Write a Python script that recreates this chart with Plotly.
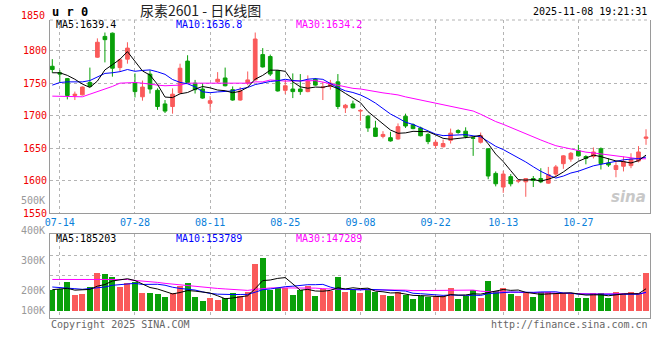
import plotly.graph_objects as go
import pandas as pd

# ---------------- data ----------------
dates = [
    "2025-07-11", "2025-07-14", "2025-07-15", "2025-07-16", "2025-07-17", "2025-07-18",
    "2025-07-21", "2025-07-22", "2025-07-23", "2025-07-24", "2025-07-25",
    "2025-07-28", "2025-07-29", "2025-07-30", "2025-07-31", "2025-08-01",
    "2025-08-04", "2025-08-05", "2025-08-06", "2025-08-07", "2025-08-08",
    "2025-08-11", "2025-08-12", "2025-08-13", "2025-08-14", "2025-08-15",
    "2025-08-18", "2025-08-19", "2025-08-20", "2025-08-21", "2025-08-22",
    "2025-08-25", "2025-08-26", "2025-08-27", "2025-08-28", "2025-08-29",
    "2025-09-01", "2025-09-02", "2025-09-03", "2025-09-04", "2025-09-05",
    "2025-09-08", "2025-09-09", "2025-09-10", "2025-09-11", "2025-09-12",
    "2025-09-15", "2025-09-16", "2025-09-17", "2025-09-18", "2025-09-19",
    "2025-09-22", "2025-09-23", "2025-09-24", "2025-09-25", "2025-09-26",
    "2025-09-29", "2025-09-30", "2025-10-09", "2025-10-10",
    "2025-10-13", "2025-10-14", "2025-10-15", "2025-10-16", "2025-10-17",
    "2025-10-20", "2025-10-21", "2025-10-22", "2025-10-23", "2025-10-24",
    "2025-10-27", "2025-10-28", "2025-10-29", "2025-10-30", "2025-10-31",
    "2025-11-03", "2025-11-04", "2025-11-05", "2025-11-06", "2025-11-07",
]

opens = [1776, 1766, 1757, 1731, 1732, 1751, 1790, 1822, 1827, 1774,
         1787, 1751, 1729, 1764, 1739, 1718, 1714, 1735, 1784, 1750,
         1741, 1719, 1752, 1758, 1740, 1724, 1750, 1755, 1794, 1791,
         1769, 1739, 1741, 1741, 1737, 1756, 1743, 1745, 1752, 1712,
         1718, 1707, 1699, 1681, 1668, 1666, 1664, 1699, 1686, 1681,
         1671, 1654, 1652, 1662, 1677, 1676, 1666, 1659, 1649, 1611,
         1590, 1606, 1599, 1598, 1603, 1603, 1596, 1610, 1626, 1633,
         1646, 1637, 1637, 1649, 1627, 1617, 1622, 1623, 1630, 1665]

highs = [1787, 1770, 1758, 1737, 1745, 1774, 1819, 1828, 1828, 1788,
         1813, 1765, 1754, 1770, 1742, 1724, 1742, 1780, 1793, 1755,
         1750, 1730, 1767, 1774, 1745, 1744, 1768, 1828, 1804, 1794,
         1770, 1755, 1765, 1764, 1762, 1758, 1752, 1755, 1764, 1718,
         1723, 1710, 1701, 1692, 1676, 1675, 1688, 1703, 1688, 1683,
         1673, 1663, 1663, 1680, 1679, 1682, 1668, 1674, 1649, 1614,
         1615, 1610, 1602, 1603, 1607, 1619, 1621, 1624, 1639, 1644,
         1655, 1639, 1651, 1651, 1634, 1629, 1637, 1642, 1653, 1679]

lows = [1766, 1752, 1725, 1724, 1731, 1744, 1789, 1782, 1760, 1768,
        1780, 1728, 1723, 1734, 1709, 1704, 1703, 1734, 1750, 1734,
        1726, 1708, 1750, 1745, 1723, 1723, 1747, 1754, 1774, 1761,
        1737, 1733, 1727, 1732, 1736, 1746, 1724, 1740, 1710, 1704,
        1711, 1692, 1675, 1667, 1665, 1660, 1663, 1681, 1679, 1668,
        1656, 1650, 1651, 1657, 1672, 1665, 1638, 1657, 1602, 1591,
        1581, 1591, 1596, 1575, 1590, 1596, 1595, 1606, 1618, 1629,
        1637, 1625, 1634, 1617, 1621, 1605, 1614, 1619, 1628, 1655]

closes = [1771, 1764, 1731, 1733, 1744, 1745, 1813, 1817, 1773, 1786,
          1804, 1737, 1744, 1741, 1714, 1707, 1733, 1773, 1751, 1740,
          1727, 1723, 1756, 1746, 1724, 1738, 1755, 1818, 1775, 1764,
          1738, 1746, 1737, 1737, 1753, 1747, 1744, 1750, 1714, 1716,
          1712, 1708, 1681, 1668, 1671, 1661, 1683, 1684, 1680, 1669,
          1660, 1659, 1657, 1673, 1674, 1668, 1665, 1669, 1607, 1595,
          1610, 1595, 1600, 1603, 1600, 1598, 1609, 1621, 1638, 1642,
          1638, 1634, 1644, 1626, 1624, 1623, 1629, 1633, 1644, 1667]

volumes = [173000, 179000, 239000, 134000, 140000, 198000, 314000, 305000, 281000, 200000,
           231000, 239000, 149000, 149000, 140000, 118000, 149000, 206000, 231000, 116000,
           83000, 107000, 91000, 107000, 149000, 124000, 157000, 388000, 437000, 173000,
           190000, 190000, 132000, 173000, 206000, 124000, 182000, 165000, 281000, 157000,
           173000, 149000, 182000, 157000, 132000, 124000, 157000, 132000, 99000, 124000,
           116000, 124000, 124000, 190000, 99000, 124000, 173000, 110000, 248000, 165000,
           190000, 138000, 124000, 151000, 116000, 157000, 157000, 138000, 149000, 149000,
           110000, 110000, 149000, 149000, 110000, 157000, 140000, 157000, 149000, 314000]

# moving-average values at the left edge (they depend on days before the window)
ma5_head = [1766, 1766, 1762, 1756]
ma10_head = [1747, 1751, 1752, 1752, 1752, 1754, 1760, 1765, 1766]
ma30_head = [1730, 1730, 1730, 1729, 1729, 1733, 1737, 1740, 1745, 1750,
             1751, 1751, 1750, 1748, 1747, 1746, 1746, 1747, 1750, 1750,
             1750, 1751, 1751, 1750, 1750, 1750, 1750, 1752, 1752]
vma5_head = [176000, 179000, 187000, 172000]
vma10_head = [198000, 195000, 190000, 184000, 179000, 184000, 193000, 198000, 212000]
vma30_head = [260000, 260000, 260000, 260000, 260000, 260000, 260000, 260000, 260000, 260000,
              260000, 252000, 248000, 244000, 236000, 228000, 222000, 212000, 205000, 198000,
              193000, 190000, 186000, 182000, 178000, 174000, 170000, 178000, 186000]

date_ticks = ["2025-07-14", "2025-07-28", "2025-08-11", "2025-08-25",
              "2025-09-08", "2025-09-22", "2025-10-13", "2025-10-27"]
date_ticklabels = ["07-14", "07-28", "08-11", "08-25", "09-08", "09-22", "10-13", "10-27"]
price_ticks = [1550, 1600, 1650, 1700, 1750, 1800]
price_top_label = "1850"
vol_labels = ["500K", "400K", "300K", "200K", "100K"]

title_code = "u r 0"
title_text = "尿素2601 - 日K线图"
timestamp = "2025-11-08 19:21:31"
price_ma_text = ["MA5:1639.4", "MA10:1636.8", "MA30:1634.2"]
vol_ma_text = ["MA5:185203", "MA10:153789", "MA30:147289"]
copyright_text = "Copyright 2025 SINA.COM"
url_text = "http://finance.sina.com.cn"


def moving_average(values, n, head):
    rolled = pd.Series(values, dtype=float).rolling(n).mean().tolist()
    return list(head) + rolled[len(head):]


ma5 = moving_average(closes, 5, ma5_head)
ma10 = moving_average(closes, 10, ma10_head)
ma30 = moving_average(closes, 30, ma30_head)
vma5 = moving_average(volumes, 5, vma5_head)
vma10 = moving_average(volumes, 10, vma10_head)
vma30 = moving_average(volumes, 30, vma30_head)

# ---------------- styling ----------------
W, H = 660, 360
RED = "#FA5A5A"
GREEN = "#09A009"
GRID = "#B4B4B4"
AXIS = "#9A9A9A"
MONO = "DejaVu Sans Mono"
L_PX, R_PX = 50, 650
P_TOP, P_BOT = 20, 213
V_TOP, V_BOT = 234, 318


def px(x):
    return x / W


def py(y):
    return 1 - y / H


bar_colors = [RED if c >= o else GREEN for o, c in zip(opens, closes)]

fig = go.Figure()
fig.add_trace(go.Candlestick(
    x=dates, open=opens, high=highs, low=lows, close=closes,
    increasing=dict(line=dict(color=RED, width=1), fillcolor=RED),
    decreasing=dict(line=dict(color=GREEN, width=1), fillcolor=GREEN),
    whiskerwidth=0, xaxis="x", yaxis="y", showlegend=False, hoverinfo="skip"))
for vals, col in [(ma30, "#FF00FF"), (ma10, "#0000FF"), (ma5, "#000000")]:
    fig.add_trace(go.Scatter(x=dates, y=vals, mode="lines",
                             line=dict(color=col, width=1),
                             xaxis="x", yaxis="y", showlegend=False, hoverinfo="skip"))

fig.add_trace(go.Bar(x=dates, y=volumes, marker=dict(color=bar_colors, line=dict(width=0)),
                     width=0.8, xaxis="x2", yaxis="y2", showlegend=False, hoverinfo="skip"))
for vals, col in [(vma30, "#FF00FF"), (vma10, "#0000FF"), (vma5, "#000000")]:
    fig.add_trace(go.Scatter(x=dates, y=vals, mode="lines",
                             line=dict(color=col, width=1),
                             xaxis="x2", yaxis="y2", showlegend=False, hoverinfo="skip"))

xr = [-0.306, 79.53]
p_scale = (P_BOT - 50.7) / 250.0  # px per price unit
p_range = [1550, 1550 + (P_BOT - P_TOP) / p_scale]
v_scale = 8250.0  # volume units per px
v_zero = 311
v_range = [-(V_BOT - v_zero) * v_scale, (v_zero - V_TOP) * v_scale]

common_x = dict(type="category", range=xr, domain=[px(L_PX), px(R_PX)],
                tickvals=date_ticks, showgrid=True, gridcolor=GRID, griddash="dot",
                gridwidth=1, zeroline=False, showline=True, linecolor=AXIS, linewidth=1,
                ticks="", fixedrange=True, automargin=False)

fig.update_layout(
    template="none",
    width=W, height=H, margin=dict(l=0, r=0, t=0, b=0, pad=0, autoexpand=False),
    paper_bgcolor="white", plot_bgcolor="white",
    showlegend=False, bargap=0,
    xaxis=dict(common_x, anchor="y", ticktext=date_ticklabels,
               tickfont=dict(family=MONO, size=10, color="#0A80DA"),
               rangeslider=dict(visible=False), mirror=False),
    yaxis=dict(domain=[py(P_BOT), py(P_TOP)], range=p_range, tickvals=price_ticks,
               tickfont=dict(family=MONO, size=10, color="#F00000"),
               showgrid=True, gridcolor=GRID, griddash="dot", zeroline=False,
               showline=True, linecolor=AXIS, linewidth=1, mirror=True, ticks="",
               anchor="x", fixedrange=True, automargin=False),
    xaxis2=dict(common_x, anchor="y2", showticklabels=False, mirror=True),
    yaxis2=dict(domain=[py(V_BOT), py(V_TOP)], range=v_range,
                tickvals=[(v_zero - 275) * v_scale, (v_zero - 255) * v_scale],
                showticklabels=False, showgrid=True, gridcolor=GRID, griddash="dot",
                zeroline=False, showline=True, linecolor=AXIS, linewidth=1,
                mirror=True, ticks="", anchor="x2", fixedrange=True, automargin=False),
)

# dotted top edge of the price panel
fig.add_shape(type="line", xref="paper", yref="paper", x0=px(L_PX), x1=px(R_PX),
              y0=py(P_TOP), y1=py(P_TOP), line=dict(color=GRID, width=1, dash="dot"))

ann = []


def text(x, y, s, color="#000", size=10, anchor="left", family=MONO, bold=False):
    ann.append(dict(x=px(x), y=py(y), xref="paper", yref="paper", text=(f"<b>{s}</b>" if bold else s),
                    showarrow=False, xanchor=anchor, yanchor="middle",
                    font=dict(family=family, size=size, color=color)))


text(50, 12, title_code, size=12, bold=True)
text(200, 10, title_text, size=14, anchor="center", family="Noto Sans CJK SC", color="#222")
text(649, 12, timestamp, size=10, anchor="right")
text(47, 16, price_top_label, color="#F00000", anchor="right")
text(54, 24.5, price_ma_text[0], color="#000")
text(174, 24.5, price_ma_text[1], color="#0000FF")
text(294, 24.5, price_ma_text[2], color="#FF00FF")
text(54, 238, vol_ma_text[0], color="#000")
text(174, 238, vol_ma_text[1], color="#0000FF")
text(294, 238, vol_ma_text[2], color="#FF00FF")
for lab, yy in zip(vol_labels, [200.5, 230.5, 260.5, 290.5, 310.5]):
    text(47, yy, lab, color="#999999", anchor="right")
text(49, 324, copyright_text, color="#666666")
text(650, 324, url_text, color="#666666", anchor="right")
ann.append(dict(x=px(628), y=py(197), xref="paper", yref="paper",
                text="<b><i>sina</i></b>", showarrow=False, xanchor="center", yanchor="middle",
                font=dict(family="DejaVu Sans", size=15, color="#C8C8C8")))
fig.update_layout(annotations=ann)

fig.write_html("out.html", config={"displayModeBar": False, "staticPlot": True},
               post_script="document.body.style.margin='0';document.body.style.overflow='hidden';")
